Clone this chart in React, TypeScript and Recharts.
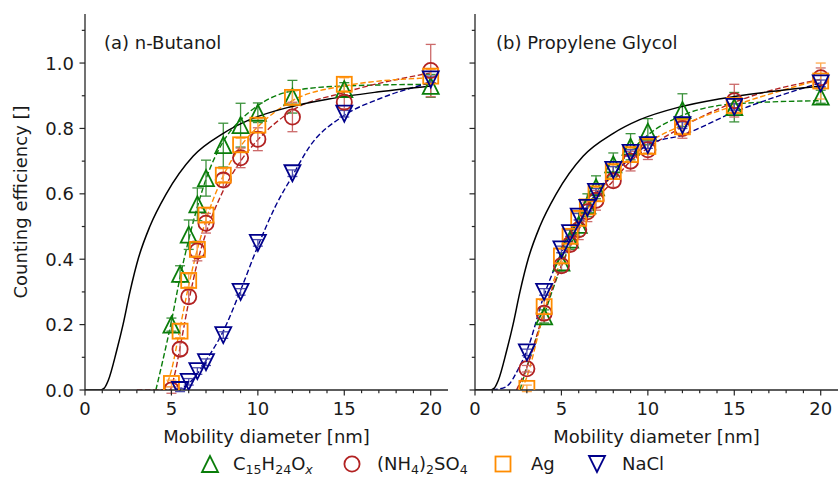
import React from 'react';
import { ComposedChart, Line, Scatter, XAxis, YAxis, ErrorBar } from 'recharts';

const FONT = '"DejaVu Sans", Verdana, sans-serif';
const AXIS = '#262626';
const TXT = '#1a1a1a';
const GREEN = '#0a7d0a';
const RED = '#b22222';
const ORANGE = '#ff8c00';
const BLUE = '#00008b';
const GREEN_E = '#3c923c';
const RED_E = '#cc6a6a';
const ORANGE_E = '#ffa94d';
const BLUE_E = '#4d4dad';

// ---- tick labels ----
const X_TICKS = [0, 1, 2, 3, 4, 5, 6, 7, 8, 9, 10, 11, 12, 13, 14, 15, 16, 17, 18, 19, 20];
const X_LABELED = [0, 5, 10, 15, 20];
const Y_TICKS = [0, 0.1, 0.2, 0.3, 0.4, 0.5, 0.6, 0.7, 0.8, 0.9, 1.0, 1.1];
const Y_LABELED = [0, 0.2, 0.4, 0.6, 0.8, 1.0];

// ---- theory curve (same in both panels) ----
const theoryX = [0, 0.9, 1.1, 1.35, 1.83, 2.2, 2.6, 3.1, 3.75, 4.7, 6.25, 8.0, 9.5, 11.8, 14.1, 17.0, 20.0];
const theoryY = [0, 0, 0.005, 0.03, 0.12, 0.2, 0.3, 0.405, 0.5, 0.6, 0.715, 0.785, 0.826, 0.865, 0.89, 0.912, 0.93];

// ---- (a) n-Butanol ----
const aGreenX = [5, 5.5, 6, 6.5, 7, 8, 9, 10, 12, 15, 20];
const aGreenY = [0.2, 0.355, 0.475, 0.568, 0.648, 0.749, 0.81, 0.848, 0.897, 0.92, 0.93];
const aGreenE = [0.02, 0.025, 0.045, 0.05, 0.055, 0.067, 0.067, 0.03, 0.05, 0.02, 0.035];
const aRedX = [5, 5.5, 6, 6.5, 7, 8, 9, 10, 12, 15, 20];
const aRedY = [0.0, 0.125, 0.285, 0.425, 0.51, 0.642, 0.71, 0.767, 0.835, 0.88, 0.977];
const aRedE = [0.01, 0.02, 0.02, 0.03, 0.03, 0.02, 0.03, 0.035, 0.045, 0.02, 0.08];
const aOrangeX = [5, 5.5, 6, 6.5, 7, 8, 9, 10, 12, 15, 20];
const aOrangeY = [0.02, 0.18, 0.335, 0.43, 0.535, 0.657, 0.75, 0.81, 0.895, 0.935, 0.96];
const aOrangeE = [0.01, 0.02, 0.02, 0.02, 0.02, 0.02, 0.02, 0.02, 0.02, 0.02, 0.02];
const aBlueX = [5.5, 6, 6.5, 7, 8, 9, 10, 12, 15, 20];
const aBlueY = [0.0, 0.025, 0.058, 0.085, 0.168, 0.3, 0.45, 0.663, 0.845, 0.95];
const aBlueE = [0.005, 0.01, 0.01, 0.01, 0.01, 0.01, 0.01, 0.01, 0.01, 0.01];

const aGreenFitX = [4.1, 4.5, 5, 5.5, 6, 6.5, 7, 8, 9, 10, 12, 15, 20];
const aGreenFitY = [0, 0.09, 0.21, 0.345, 0.46, 0.56, 0.645, 0.76, 0.826, 0.87, 0.915, 0.93, 0.935];
const aOrangeFitX = [4.6, 5, 5.5, 6, 6.5, 7, 8, 9, 10, 12, 15, 20];
const aOrangeFitY = [0, 0.06, 0.19, 0.32, 0.43, 0.52, 0.655, 0.745, 0.805, 0.885, 0.93, 0.955];
const aRedFitX = [3, 4.9, 5.2, 5.5, 6, 6.5, 7, 8, 9, 10, 12, 15, 20];
const aRedFitY = [0, 0, 0.05, 0.13, 0.27, 0.39, 0.48, 0.61, 0.7, 0.765, 0.855, 0.91, 0.97];
const aBlueFitX = [5.3, 6, 6.5, 7, 8, 9, 10, 11, 12, 13, 15, 17, 20];
const aBlueFitY = [0, 0.02, 0.05, 0.09, 0.18, 0.305, 0.44, 0.56, 0.655, 0.745, 0.84, 0.89, 0.94];

// ---- (b) Propylene Glycol ----
const bGreenX = [4, 5, 5.5, 6, 6.5, 7, 8, 9, 10, 12, 15, 20];
const bGreenY = [0.225, 0.39, 0.46, 0.505, 0.565, 0.62, 0.69, 0.744, 0.79, 0.856, 0.865, 0.897];
const bGreenE = [0.02, 0.03, 0.03, 0.035, 0.035, 0.035, 0.035, 0.04, 0.04, 0.05, 0.045, 0.02];
const bRedX = [3, 4, 5, 5.5, 6, 6.5, 7, 8, 9, 10, 12, 15, 20];
const bRedY = [0.065, 0.235, 0.38, 0.445, 0.49, 0.545, 0.58, 0.64, 0.7, 0.735, 0.8, 0.885, 0.955];
const bRedE = [0.01, 0.02, 0.02, 0.02, 0.03, 0.03, 0.03, 0.02, 0.03, 0.03, 0.03, 0.05, 0.03];
const bOrangeX = [3, 4, 5, 5.5, 6, 6.5, 7, 8, 9, 10, 12, 15, 20];
const bOrangeY = [0.005, 0.255, 0.41, 0.47, 0.525, 0.56, 0.6, 0.668, 0.72, 0.745, 0.805, 0.87, 0.945];
const bOrangeE = [0.01, 0.02, 0.02, 0.02, 0.02, 0.02, 0.02, 0.02, 0.02, 0.02, 0.02, 0.02, 0.055];
const bBlueX = [3, 4, 5, 5.5, 6, 6.5, 7, 8, 9, 10, 12, 15, 20];
const bBlueY = [0.115, 0.3, 0.43, 0.48, 0.53, 0.557, 0.606, 0.673, 0.725, 0.749, 0.81, 0.866, 0.938];
const bBlueE = [0.01, 0.01, 0.01, 0.01, 0.01, 0.01, 0.01, 0.01, 0.01, 0.01, 0.01, 0.01, 0.01];

const bGreenFitX = [2.6, 3, 4, 5, 6, 7, 8, 9, 10, 12, 15, 20];
const bGreenFitY = [0, 0.07, 0.23, 0.38, 0.5, 0.6, 0.67, 0.73, 0.78, 0.84, 0.875, 0.885];
const bRedFitX = [2.4, 3, 4, 5, 6, 7, 8, 9, 10, 12, 15, 20];
const bRedFitY = [0, 0.07, 0.24, 0.38, 0.49, 0.58, 0.64, 0.7, 0.74, 0.805, 0.88, 0.95];
const bOrangeFitX = [2.7, 3, 4, 5, 6, 7, 8, 9, 10, 12, 15, 20];
const bOrangeFitY = [0, 0.04, 0.24, 0.4, 0.51, 0.59, 0.66, 0.71, 0.755, 0.81, 0.87, 0.95];
const bBlueFitX = [1.0, 1.8, 2.56, 3, 4, 5, 6, 7, 8, 9, 10, 12, 15, 20];
const bBlueFitY = [0, 0.01, 0.07, 0.12, 0.29, 0.42, 0.52, 0.6, 0.66, 0.71, 0.75, 0.78, 0.85, 0.94];

const pts = (xs: number[], ys: number[], es?: number[]) =>
  xs.map((x, i) => ({ x, y: ys[i], e: es ? es[i] : 0 }));

type Kind = 'up' | 'circle' | 'square' | 'down';

function MarkerShape({ kind, cx, cy, color }: { kind: Kind; cx: number; cy: number; color: string }) {
  const s = 8;
  const common = { fill: 'none', stroke: color, strokeWidth: 1.8, strokeLinejoin: 'miter' as const };
  if (cx == null || cy == null || isNaN(cx) || isNaN(cy)) return <g />;
  if (kind === 'up')
    return <polygon {...common} points={`${cx},${cy - s} ${cx - s},${cy + s} ${cx + s},${cy + s}`} />;
  if (kind === 'down')
    return <polygon {...common} points={`${cx},${cy + s} ${cx - s},${cy - s} ${cx + s},${cy - s}`} />;
  if (kind === 'circle') return <circle {...common} cx={cx} cy={cy} r={7.6} />;
  return <rect {...common} x={cx - 7.5} y={cy - 7.5} width={15} height={15} />;
}

const shapeOf = (kind: Kind, color: string) => (p: any) =>
  <MarkerShape kind={kind} cx={p.cx} cy={p.cy} color={color} />;

function XTick(props: any) {
  const { x, y, payload } = props;
  const v = payload.value;
  const major = X_LABELED.includes(v);
  return (
    <g>
      <line x1={x} x2={x} y1={y} y2={y + (major ? 5.5 : 3.2)} stroke={AXIS} strokeWidth={1.2} />
      {major && (
        <text x={x} y={y + 25} textAnchor="middle" fontSize={18} fontFamily={FONT} fill={TXT}>
          {v}
        </text>
      )}
    </g>
  );
}

const makeYTick = (labels: boolean) => (props: any) => {
  const { x, y, payload } = props;
  const v = payload.value as number;
  const major = Y_LABELED.some((t) => Math.abs(t - v) < 1e-6);
  return (
    <g>
      <line x1={x} x2={x - (major ? 5.5 : 3.2)} y1={y} y2={y} stroke={AXIS} strokeWidth={1.2} />
      {labels && major && (
        <text x={x - 11} y={y + 6.5} textAnchor="end" fontSize={18} fontFamily={FONT} fill={TXT}>
          {v.toFixed(1)}
        </text>
      )}
    </g>
  );
};

type Series = { pts: any[]; fit: any[]; kind: Kind; color: string; ecolor: string };

function Panel({ series, width, yWidth, labels, marginRight }: { series: Series[]; width: number; yWidth: number; labels: boolean; marginRight: number }) {
  const theory = pts(theoryX, theoryY);
  return (
    <ComposedChart width={width} height={430} margin={{ top: 14, right: marginRight, bottom: 0, left: 0 }}>
      <XAxis
        type="number"
        dataKey="x"
        domain={[0, 21]}
        allowDataOverflow
        ticks={X_TICKS}
        interval={0}
        tickSize={0}
        tickMargin={0}
        tickLine={false}
        tick={XTick}
        height={40}
        axisLine={{ stroke: AXIS, strokeWidth: 1.3 }}
      />
      <XAxis
        xAxisId="top"
        orientation="top"
        type="number"
        domain={[0, 21]}
        allowDataOverflow
        height={0}
        tick={false}
        tickLine={false}
        axisLine={{ stroke: AXIS, strokeWidth: 1.3 }}
      />
      <YAxis
        type="number"
        dataKey="y"
        domain={[0, 1.15]}
        allowDataOverflow
        ticks={Y_TICKS}
        interval={0}
        tickSize={0}
        tickMargin={0}
        tickLine={false}
        tick={makeYTick(labels)}
        width={yWidth}
        axisLine={{ stroke: AXIS, strokeWidth: 1.3 }}
      />
      <YAxis
        yAxisId="right"
        orientation="right"
        type="number"
        domain={[0, 1.15]}
        allowDataOverflow
        width={0}
        tick={false}
        tickLine={false}
        axisLine={{ stroke: AXIS, strokeWidth: 1.3 }}
      />
      {series.map((s, i) => (
        <Line
          key={'fit' + i}
          data={s.fit}
          dataKey="y"
          type="monotone"
          stroke={s.color}
          strokeWidth={1.4}
          strokeDasharray="5.5 2.6"
          dot={false}
          activeDot={false}
          isAnimationActive={false}
        />
      ))}
      {series.map((s, i) => (
        <Scatter
          key={'sc' + i}
          data={s.pts}
          dataKey="y"
          shape={shapeOf(s.kind, s.color)}
          isAnimationActive={false}
        >
          <ErrorBar dataKey="e" direction="y" width={5} stroke={s.ecolor} strokeWidth={1.3} />
        </Scatter>
      ))}
      <Line
        data={theory}
        dataKey="y"
        type="monotone"
        stroke="#000"
        strokeWidth={1.5}
        dot={false}
        activeDot={false}
        isAnimationActive={false}
      />
    </ComposedChart>
  );
}

const seriesA: Series[] = [
  { pts: pts(aGreenX, aGreenY, aGreenE), fit: pts(aGreenFitX, aGreenFitY), kind: 'up', color: GREEN, ecolor: GREEN_E },
  { pts: pts(aRedX, aRedY, aRedE), fit: pts(aRedFitX, aRedFitY), kind: 'circle', color: RED, ecolor: RED_E },
  { pts: pts(aOrangeX, aOrangeY, aOrangeE), fit: pts(aOrangeFitX, aOrangeFitY), kind: 'square', color: ORANGE, ecolor: ORANGE_E },
  { pts: pts(aBlueX, aBlueY, aBlueE), fit: pts(aBlueFitX, aBlueFitY), kind: 'down', color: BLUE, ecolor: BLUE_E },
];

const seriesB: Series[] = [
  { pts: pts(bGreenX, bGreenY, bGreenE), fit: pts(bGreenFitX, bGreenFitY), kind: 'up', color: GREEN, ecolor: GREEN_E },
  { pts: pts(bRedX, bRedY, bRedE), fit: pts(bRedFitX, bRedFitY), kind: 'circle', color: RED, ecolor: RED_E },
  { pts: pts(bOrangeX, bOrangeY, bOrangeE), fit: pts(bOrangeFitX, bOrangeFitY), kind: 'square', color: ORANGE, ecolor: ORANGE_E },
  { pts: pts(bBlueX, bBlueY, bBlueE), fit: pts(bBlueFitX, bBlueFitY), kind: 'down', color: BLUE, ecolor: BLUE_E },
];

export default function App() {
  const sub = { fontSize: 12.6 };
  return (
    <div style={{ position: 'absolute', left: 0, top: 0, width: 839, height: 481, background: '#fff', overflow: 'hidden' }}>
      <div style={{ position: 'absolute', left: 0, top: 0 }}>
        <Panel series={seriesA} width={460} yWidth={85} labels marginRight={12} />
      </div>
      <div style={{ position: 'absolute', left: 463, top: 0 }}>
        <Panel series={seriesB} width={376} yWidth={12} labels={false} marginRight={1} />
      </div>
      <svg width={839} height={481} style={{ position: 'absolute', left: 0, top: 0, pointerEvents: 'none' }} fontFamily={FONT} fill={TXT}>
        <text transform="translate(27,202) rotate(-90)" textAnchor="middle" fontSize={18}>Counting efficiency []</text>
        <text x={266.5} y={443} textAnchor="middle" fontSize={18}>Mobility diameter [nm]</text>
        <text x={656.5} y={443} textAnchor="middle" fontSize={18}>Mobility diameter [nm]</text>
        <text x={104} y={49} fontSize={18}>(a) n-Butanol</text>
        <text x={496} y={49} fontSize={18}>(b) Propylene Glycol</text>
        <MarkerShape kind="up" cx={210} cy={464} color={GREEN} />
        <text x={233} y={470} fontSize={18}>
          C<tspan {...sub} dy={4}>15</tspan><tspan dy={-4}>H</tspan><tspan {...sub} dy={4}>24</tspan><tspan dy={-4}>O</tspan><tspan {...sub} dy={4} fontStyle="italic">x</tspan>
        </text>
        <MarkerShape kind="circle" cx={352} cy={464} color={RED} />
        <text x={377} y={470} fontSize={18}>
          (NH<tspan {...sub} dy={4}>4</tspan><tspan dy={-4}>)</tspan><tspan {...sub} dy={4}>2</tspan><tspan dy={-4}>SO</tspan><tspan {...sub} dy={4}>4</tspan>
        </text>
        <MarkerShape kind="square" cx={503} cy={464} color={ORANGE} />
        <text x={531} y={470} fontSize={18}>Ag</text>
        <MarkerShape kind="down" cx={597} cy={464} color={BLUE} />
        <text x={622} y={470} fontSize={18}>NaCl</text>
      </svg>
    </div>
  );
}
